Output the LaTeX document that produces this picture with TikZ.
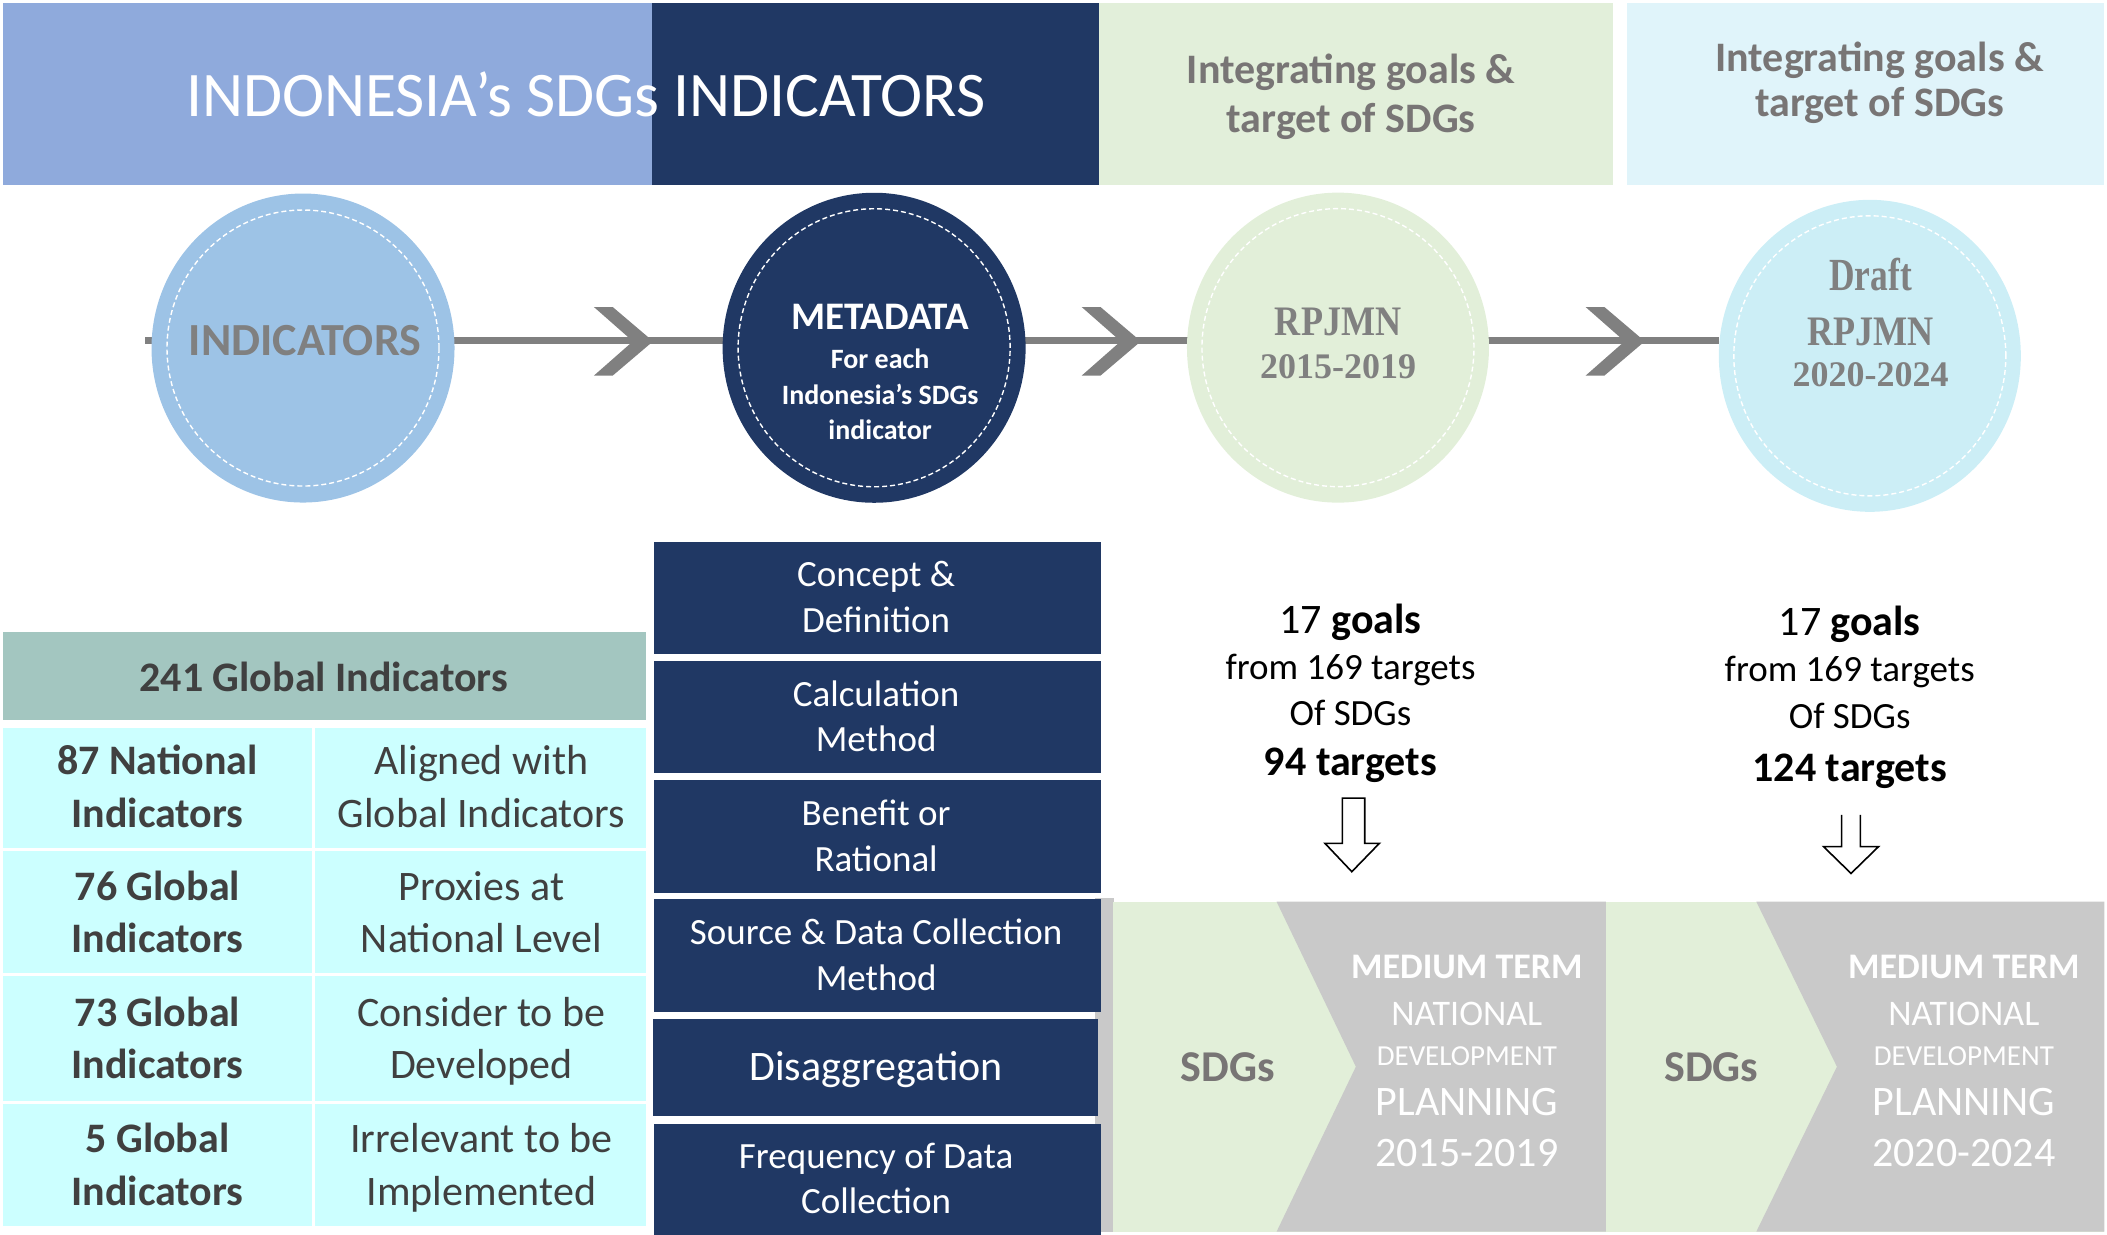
\documentclass[tikz,border=0pt]{standalone}
\usepackage{fontspec}
\setmainfont{Carlito}
\newfontfamily\rpfont{Liberation Serif}
\usetikzlibrary{shapes.geometric}
\pgfdeclarelayer{background}
\pgfsetlayers{background,main}
\definecolor{bandblue}{HTML}{8FAADC}
\definecolor{navy}{HTML}{203864}
\definecolor{greenbox}{HTML}{E2EFDA}
\definecolor{cyanbox}{HTML}{E0F4FA}
\definecolor{indblue}{HTML}{9DC3E6}
\definecolor{rpgreen}{HTML}{E2EFD9}
\definecolor{draftcyan}{HTML}{CCEEF6}
\definecolor{linegray}{HTML}{808080}
\definecolor{headteal}{HTML}{A3C6C0}
\definecolor{rowcyan}{HTML}{CCFFFF}
\definecolor{blockgray}{HTML}{C9C9C9}
\definecolor{textgray}{HTML}{787575}
\definecolor{darktext}{HTML}{404040}
\newcommand\myfs[1]{\fontsize{#1pt}{#1pt}\selectfont}
\newcommand\chev[1]{\fill[linegray] (#1-44,228.5) -- (#1-30,228.5) -- (#1,254) -- (#1-30,279.5) -- (#1-44,279.5) -- (#1-15,254) -- cycle;}
\begin{document}
\begin{tikzpicture}[x=1.3437pt,y=-1.3437pt,
  txt/.style={anchor=base,inner sep=0pt},
  circ/.style={ellipse,inner sep=0pt,draw=none},
  dashring/.style={white,line width=1.4pt,dash pattern=on 5pt off 3pt},
  conn/.style={linegray,line width=6.7pt},
  hollow/.style={black,line width=1.6pt,line join=miter}]
\useasboundingbox (0,0) rectangle (1568,919);
% ---------- top bands
\fill[bandblue] (2.5,2.5) rectangle (485,138);
\fill[navy] (485,2.5) rectangle (818,138);
\fill[greenbox] (818,2.5) rectangle (1200,138);
\fill[cyanbox] (1211,2.5) rectangle (1566,138);
\node[txt,white,font=\myfs{63.5}] (title) at (436,87) {INDONESIA’s SDGs INDICATORS};
\node[txt,textgray,font=\myfs{42}\bfseries] (intAa) at (1005.5,61.8) {Integrating goals \&};
\node[txt,textgray,font=\myfs{42}\bfseries] (intAb) at (1005.5,98.4) {target of SDGs};
\node[txt,textgray,font=\myfs{42}\bfseries] (intBa) at (1398.8,53.5) {Integrating goals \&};
\node[txt,textgray,font=\myfs{42}\bfseries] (intBb) at (1398.8,87) {target of SDGs};
% ---------- circles
\node[circ,fill=indblue,minimum width=303pt,minimum height=309pt] (ind) at (225.5,259) {};
\node[circ,fill=navy,minimum width=303pt,minimum height=310pt] (meta) at (650.5,258.8) {};
\node[circ,fill=rpgreen,minimum width=302pt,minimum height=310pt] (rp) at (995.7,258.7) {};
\node[circ,fill=draftcyan,minimum width=302pt,minimum height=312pt] (draft) at (1391.5,264.8) {};
\draw[dashring] (ind.center) ellipse [x radius=136pt, y radius=138pt];
\draw[dashring] (meta.center) ellipse [x radius=136pt, y radius=139pt];
\draw[dashring] (rp.center) ellipse [x radius=136pt, y radius=139pt];
\draw[dashring] (draft.center) ellipse [x radius=136pt, y radius=140pt];
\coordinate (l0) at (108,253.5);
\begin{pgfonlayer}{background}
\draw[conn] (l0) -- (l0 -| draft.west);
\end{pgfonlayer}
\chev{486}
\chev{849}
\chev{1224}
\node[txt,linegray,font=\myfs{46}\bfseries] (indt) at (227,264.3) {INDICATORS};
\node[txt,white,font=\myfs{39}\bfseries] (metaa) at (655,245) {METADATA};
\node[txt,white,font=\myfs{28}\bfseries] (metab) at (655,274.1) {For each};
\node[txt,white,font=\myfs{28}\bfseries] (metac) at (655,300.7) {Indonesia’s SDGs};
\node[txt,white,font=\myfs{28}\bfseries] (metad) at (655,327) {indicator};
\node[txt,linegray,font=\rpfont\bfseries\myfs{42}] (rpa) at (995.8,250) {\scalebox{0.86}[1]{RPJMN}};
\node[txt,linegray,font=\rpfont\bfseries\myfs{36}] (rpb) at (995.8,281.6) {2015-2019};
\node[txt,linegray,font=\rpfont\bfseries\myfs{46}] (dra) at (1392,216.3) {\scalebox{0.77}[1]{Draft}};
\node[txt,linegray,font=\rpfont\bfseries\myfs{42}] (drb) at (1392,256.8) {\scalebox{0.86}[1]{RPJMN}};
\node[txt,linegray,font=\rpfont\bfseries\myfs{36}] (drc) at (1392,287.8) {2020-2024};
% ---------- table
\fill[headteal] (2.6,470) rectangle (480.5,536);
\node[txt,darktext,font=\myfs{42}\bfseries] (head) at (240.8,514.7) {241 Global Indicators};
\foreach \ya/\yb in {542/631,633/724,726/819,821.5/912.5}{
  \fill[rowcyan] (2.6,\ya) rectangle (232,\yb);
  \fill[rowcyan] (234.5,\ya) rectangle (480.5,\yb);
}
\node[txt,darktext,font=\myfs{42}\bfseries] (r1a) at (117.2,576) {87 National};
\node[txt,darktext,font=\myfs{42}\bfseries] (r1b) at (117.2,615.5) {Indicators};
\node[txt,darktext,font=\myfs{42}] (r1c) at (358.3,576) {Aligned with};
\node[txt,darktext,font=\myfs{42}] (r1d) at (358.3,615.5) {Global Indicators};
\node[txt,darktext,font=\myfs{42}\bfseries] (r2a) at (117.2,669.8) {76 Global};
\node[txt,darktext,font=\myfs{42}\bfseries] (r2b) at (117.2,708.6) {Indicators};
\node[txt,darktext,font=\myfs{42}] (r2c) at (358.3,669.8) {Proxies at};
\node[txt,darktext,font=\myfs{42}] (r2d) at (358.3,708.6) {National Level};
\node[txt,darktext,font=\myfs{42}\bfseries] (r3a) at (117.2,764) {73 Global};
\node[txt,darktext,font=\myfs{42}\bfseries] (r3b) at (117.2,802.7) {Indicators};
\node[txt,darktext,font=\myfs{42}] (r3c) at (358.3,764) {Consider to be};
\node[txt,darktext,font=\myfs{42}] (r3d) at (358.3,802.7) {Developed};
\node[txt,darktext,font=\myfs{42}\bfseries] (r4a) at (117.2,858) {5 Global};
\node[txt,darktext,font=\myfs{42}\bfseries] (r4b) at (117.2,896.8) {Indicators};
\node[txt,darktext,font=\myfs{42}] (r4c) at (358.3,858) {Irrelevant to be};
\node[txt,darktext,font=\myfs{42}] (r4d) at (358.3,896.8) {Implemented};
% ---------- metadata boxes
\fill[blockgray] (815,668) rectangle (829,917);
\fill[navy] (487,403) rectangle (819,487);
\fill[navy] (487,491.6) rectangle (819,575);
\fill[navy] (487,580.7) rectangle (819,664.8);
\fill[navy] (487,669) rectangle (819,753);
\fill[navy] (486,758) rectangle (817,830.7);
\fill[navy] (487,836.6) rectangle (819,919);
\node[txt,white,font=\myfs{37}] (m1a) at (652,436.5) {Concept \&};
\node[txt,white,font=\myfs{37}] (m1b) at (652,471) {Definition};
\node[txt,white,font=\myfs{37}] (m2a) at (652,525.6) {Calculation};
\node[txt,white,font=\myfs{37}] (m2b) at (652,559) {Method};
\node[txt,white,font=\myfs{37}] (m3a) at (652,614.6) {Benefit or};
\node[txt,white,font=\myfs{37}] (m3b) at (652,648.6) {Rational};
\node[txt,white,font=\myfs{37}] (m4a) at (652,702.8) {Source \& Data Collection};
\node[txt,white,font=\myfs{37}] (m4b) at (652,736.8) {Method};
\node[txt,white,font=\myfs{42}] (m5a) at (652,804.3) {Disaggregation};
\node[txt,white,font=\myfs{37}] (m6a) at (652,869.6) {Frequency of Data};
\node[txt,white,font=\myfs{37}] (m6b) at (652,903.3) {Collection};
% ---------- goals texts
\node[txt,black,font=\myfs{42}] (gA1) at (1005,471.3) {17 \textbf{goals}};
\node[txt,black,font=\myfs{37}] (gA2) at (1005,505.6) {from 169 targets};
\node[txt,black,font=\myfs{37}] (gA3) at (1005,539.6) {Of SDGs};
\node[txt,black,font=\myfs{42}\bfseries] (gA4) at (1005,576.8) {94 targets};
\node[txt,black,font=\myfs{42}] (gB1) at (1376.5,473) {17 \textbf{goals}};
\node[txt,black,font=\myfs{37}] (gB2) at (1376.5,507.3) {from 169 targets};
\node[txt,black,font=\myfs{37}] (gB3) at (1376.5,542) {Of SDGs};
\node[txt,black,font=\myfs{42}\bfseries] (gB4) at (1376.5,581.7) {124 targets};
\draw[hollow] (999,594) -- (1015.6,594) -- (1015.6,627.6) -- (1026.5,627.6) -- (1006,648.7) -- (986,627.6) -- (999,627.6) -- cycle;
\draw[hollow] (1370.5,606.5) -- (1370.5,630) -- (1357,630) -- (1377.5,650) -- (1398,630) -- (1384.5,630) -- (1384.5,606.5);
% ---------- bottom blocks
\fill[rpgreen] (828,671) rectangle (1195,916.6);
\fill[blockgray] (950,671) -- (1195,671) -- (1195,916.6) -- (950,916.6) -- (1009,793.8) -- cycle;
\fill[rpgreen] (1195,671) rectangle (1566,916.6);
\fill[blockgray] (1307,671) -- (1566,671) -- (1566,916.6) -- (1307,916.6) -- (1367,793.8) -- cycle;
\node[txt,textgray,font=\myfs{44}\bfseries] (sA) at (913.7,805) {SDGs};
\node[txt,white,font=\myfs{36}\bfseries] (pA1) at (1091.6,728) {MEDIUM TERM};
\node[txt,white,font=\myfs{36}] (pA2) at (1091.6,762.8) {NATIONAL};
\node[txt,white,font=\myfs{29}] (pA3) at (1091.6,792.6) {DEVELOPMENT};
\node[txt,white,font=\myfs{42}] (pA4) at (1091.6,829.8) {PLANNING};
\node[txt,white,font=\myfs{42}] (pA5) at (1091.6,868.3) {2015-2019};
\node[txt,textgray,font=\myfs{44}\bfseries] (sB) at (1273.5,805) {SDGs};
\node[txt,white,font=\myfs{36}\bfseries] (pB1) at (1461.5,728) {MEDIUM TERM};
\node[txt,white,font=\myfs{36}] (pB2) at (1461.5,762.8) {NATIONAL};
\node[txt,white,font=\myfs{29}] (pB3) at (1461.5,792.6) {DEVELOPMENT};
\node[txt,white,font=\myfs{42}] (pB4) at (1461.5,829.8) {PLANNING};
\node[txt,white,font=\myfs{42}] (pB5) at (1461.5,868.3) {2020-2024};
\end{tikzpicture}
\end{document}
